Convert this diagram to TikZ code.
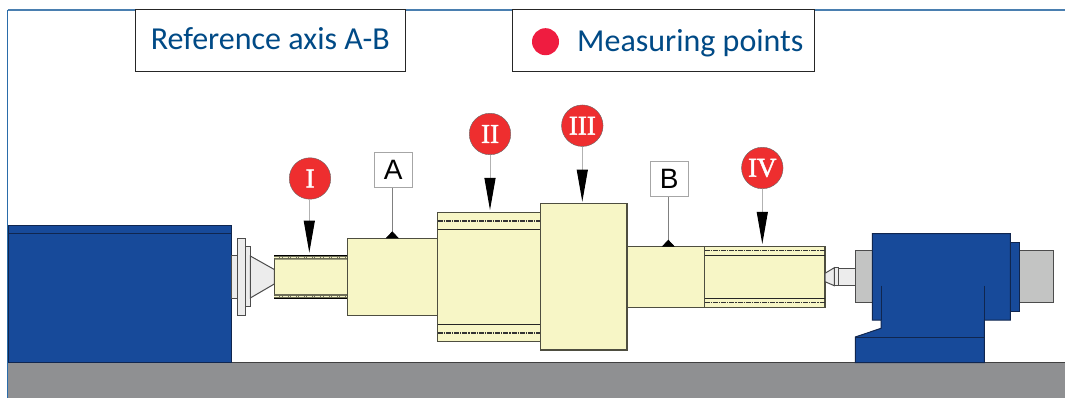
\documentclass[tikz,border=0pt]{standalone}
\usepackage{fontspec}
\setmainfont{Liberation Sans}
\newfontfamily\calib{Carlito}
\newfontfamily\numfont[FakeBold=1.6]{Liberation Serif}
\usetikzlibrary{arrows.meta}
\definecolor{bluemach}{HTML}{174A9A}
\definecolor{edgeblue}{HTML}{10264F}
\definecolor{cream}{HTML}{F7F6C6}
\definecolor{edgecream}{HTML}{4E4E40}
\definecolor{lightmetal}{HTML}{ECECEC}
\definecolor{midmetal}{HTML}{C3C4C3}
\definecolor{ground}{HTML}{8F9092}
\definecolor{ballred}{HTML}{EE2E2F}
\definecolor{dotred}{HTML}{EF1C40}
\definecolor{inkblue}{HTML}{004A86}
\definecolor{frameblue}{HTML}{4A7FB0}
\definecolor{frameleft}{HTML}{2A6CAA}
\definecolor{bandolive}{HTML}{6E6E58}
\tikzset{
  mach/.style={fill=bluemach,draw=edgeblue,line width=1pt},
  part/.style={fill=cream,draw=edgecream,line width=1.1pt},
  metal/.style={fill=lightmetal,draw=black!70,line width=1pt},
  gray part/.style={fill=midmetal,draw=black!70,line width=1pt},
  inner line/.style={draw=black!85,line width=.9pt},
  centre line/.style={draw=black!80,line width=1.1pt,dash pattern=on 5pt off 1pt on 1.2pt off 1pt},
  pale line/.style={draw=cream,line width=1.1pt,dash pattern=on 5pt off 1pt on 1.2pt off 1pt},
  balloon/.style={circle,fill=ballred,draw=black!60,line width=.4pt,minimum size=41.5pt,inner sep=0pt,
    text=white,font=\numfont\fontsize{27}{27}\selectfont},
  datum/.style={rectangle,fill=white,draw=black!35,line width=.6pt,minimum width=38pt,minimum height=35.5pt,
    inner sep=0pt,font=\fontsize{28}{28}\selectfont},
  legend/.style={rectangle,fill=white,draw=black!85,line width=1pt,minimum height=62pt,inner sep=0pt,
    text=inkblue,font=\calib\fontsize{32}{32}\selectfont},
  pointer/.style={draw=black!30,line width=1pt,-{Triangle[length=32pt,width=11pt,black]}},
  datum line/.style={draw=black!50,line width=.7pt,-{Triangle[reversed,length=7pt,width=13pt,black]}}
}
\begin{document}
\begin{tikzpicture}[x=1pt,y=-1pt]
\useasboundingbox (0,0) rectangle (1065,398);
% ground
\fill[ground] (8,362.7) rectangle (1065,398);
\draw[black!75,line width=1.2pt] (8,362.7) -- (1065,362.7);
% frame
\draw[frameblue,line width=1.4pt] (7.5,10) -- (1065,10);
\draw[frameleft,line width=1.8pt] (7.5,398) -- (7.5,10);
% headstock
\draw[mach] (8,225) rectangle (231,362.7);
\draw[edgeblue,line width=1pt] (8,233.6) -- (231,233.6);
\draw[metal] (231,255.3) rectangle (237.3,298);
\draw[metal] (237.3,238.3) rectangle (245.7,315.3);
\draw[metal] (245.7,246.7) rectangle (250.3,306.3);
\draw[metal] (250.3,256) -- (274.3,269.5) -- (274.3,284) -- (250.3,298) -- cycle;
% shaft I
\draw[part] (274.3,255.3) rectangle (347.7,298.7);
\fill[bandolive] (274.3,255.3) rectangle (347.7,259.7) (274.3,294) rectangle (347.7,298.7);
\draw[pale line] (274.3,257.5) -- (347.7,257.5) (274.3,296.3) -- (347.7,296.3);
\draw[black,line width=1.1pt] (274.3,255.3) -- (347.7,255.3) (274.3,298.7) -- (347.7,298.7);
% block A
\draw[part] (347.7,238.3) rectangle (437.7,315.7);
\coordinate (datA) at (392.3,238.3);
% section II
\draw[part] (437.7,212.3) rectangle (540.7,341.7);
\draw[inner line] (437.7,229.3) -- (540.7,229.3) (437.7,324.3) -- (540.7,324.3);
\draw[centre line] (437.7,221) -- (540.7,221) (437.7,333) -- (540.7,333);
% section III
\draw[part] (540.7,203.7) rectangle (627,350);
% block B
\draw[part] (627,246.7) rectangle (704.7,307.3);
\coordinate (datB) at (668.3,246.7);
% section IV
\draw[part] (704.7,246.7) rectangle (825,307.3);
\draw[inner line] (704.7,255.3) -- (825,255.3) (704.7,298.3) -- (825,298.3);
\draw[centre line] (704.7,250.7) -- (825,250.7) (704.7,302.3) -- (825,302.3);
% tailstock centre
\draw[metal] (825,273.3) -- (834.3,267.7) -- (834.3,285.7) -- (825,281.7) -- cycle;
\draw[metal] (834.3,267.7) rectangle (838,285.7);
\draw[metal] (838,268) rectangle (855.3,285.3);
\draw[gray part] (855.3,250.7) rectangle (872.3,302.7);
\draw[gray part] (1019,250.7) rectangle (1053.3,302.7);
\draw[mach] (1010.3,242) rectangle (1019,311.7);
% tailstock
\draw[mach] (872.3,233.7) -- (1010.3,233.7) -- (1010.3,320) -- (984.3,320) -- (984.3,362.7)
  -- (855.3,362.7) -- (855.3,337) -- (881,328.3) -- (881,320) -- (872.3,320) -- cycle;
\draw[edgeblue,line width=1pt] (881,285.7) -- (881,320) (984.3,285.7) -- (984.3,320) (855.3,337) -- (984.3,337);
% legends
\node[legend,minimum width=270.6pt] (refbox) at (270.3,40.3) {\raisebox{4pt}{Reference axis A-B}};
\node[legend,minimum width=301.5pt] (mpbox) at (663.7,40.3) {};
\node[circle,fill=dotred,minimum size=27pt,inner sep=0pt] (mpdot) at (545.5,41.7) {};
\node[anchor=base west,text=inkblue,font=\calib\fontsize{32}{32}\selectfont,inner sep=0pt] (mptext) at (577,51.5) {Measuring points};
% targets
\coordinate (tI) at (309.3,252.7);
\coordinate (tII) at (490,210);
\coordinate (tIII) at (582.3,201.7);
\coordinate (tIV) at (762.3,244);
% balloons
\node[balloon] (bI) at (310,178.5) {I};
\node[balloon] (bII) at (490,134) {II};
\node[balloon] (bIII) at (582.3,125.7) {III};
\node[balloon] (bIV) at (762.3,168) {IV};
\draw[pointer] (bI.south -| tI) -- (tI);
\draw[pointer] (bII) -- (tII);
\draw[pointer] (bIII) -- (tIII);
\draw[pointer] (bIV) -- (tIV);
% datum labels
\node[datum] (lA) at (393.3,169.8) {A};
\node[datum] (lB) at (669.2,179) {B};
\draw[datum line] (lA.south -| datA) -- (datA);
\draw[datum line] (lB.south -| datB) -- (datB);
\end{tikzpicture}
\end{document}
